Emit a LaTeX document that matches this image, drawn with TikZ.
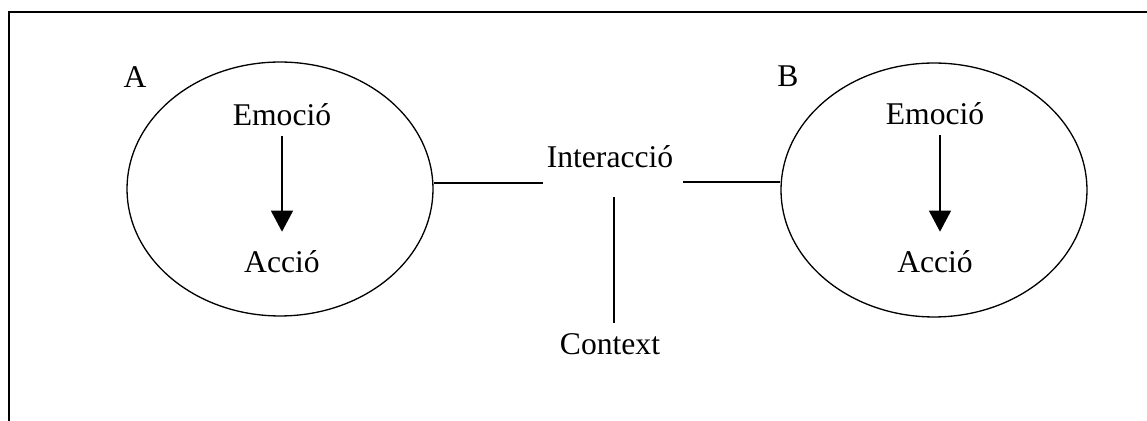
\documentclass[tikz,border=0pt]{standalone}
\usepackage{fontspec}
\setmainfont{Liberation Serif}
\usetikzlibrary{shapes.geometric,arrows.meta}
\begin{document}
\begin{tikzpicture}[x=0.02cm,y=-0.02cm,line width=0.75pt,
   every node/.style={font=\fontsize{18}{22}\selectfont,inner sep=2pt},
   agent/.style={draw,ellipse,minimum width=6.12cm,minimum height=5.08cm,inner sep=0pt},
   arr/.style={-{Triangle[width=0.44cm,length=0.42cm]},shorten <=0.12cm,shorten >=0.3cm}]
   \useasboundingbox (0,0) rectangle (1147,421);
   \draw[line width=1.2pt] (1147,12) -- (9,12) -- (9,421);

   \node[agent] (A) at (280,189) {};
   \node[agent] (B) at (934,190) {};
   \node (labA) at (135,77) {A};
   \node (labB) at (788,76) {B};

   \node (emoA) at (282,115) {Emoció};
   \node (accA) at (282,262) {Acció};
   \node (emoB) at (935,114) {Emoció};
   \node (accB) at (935,262) {Acció};
   \draw[arr] (emoA.south) -- (accA.north);
   \draw[arr] ([xshift=0.1cm]emoB.south) -- ([xshift=0.1cm]accB.north);

   \node (inter) at (610,157) {Interacció};
   \node (ctx) at (610,344) {Context};
   \coordinate (il) at (543,183);
   \coordinate (ir) at (683,182);
   \coordinate (it) at (614,197);
   \draw (A.east |- il) -- (il);
   \draw (ir) -- (B.west |- ir);
   \draw[shorten >=0.12cm] (it) -- (it |- ctx.north);
\end{tikzpicture}
\end{document}
